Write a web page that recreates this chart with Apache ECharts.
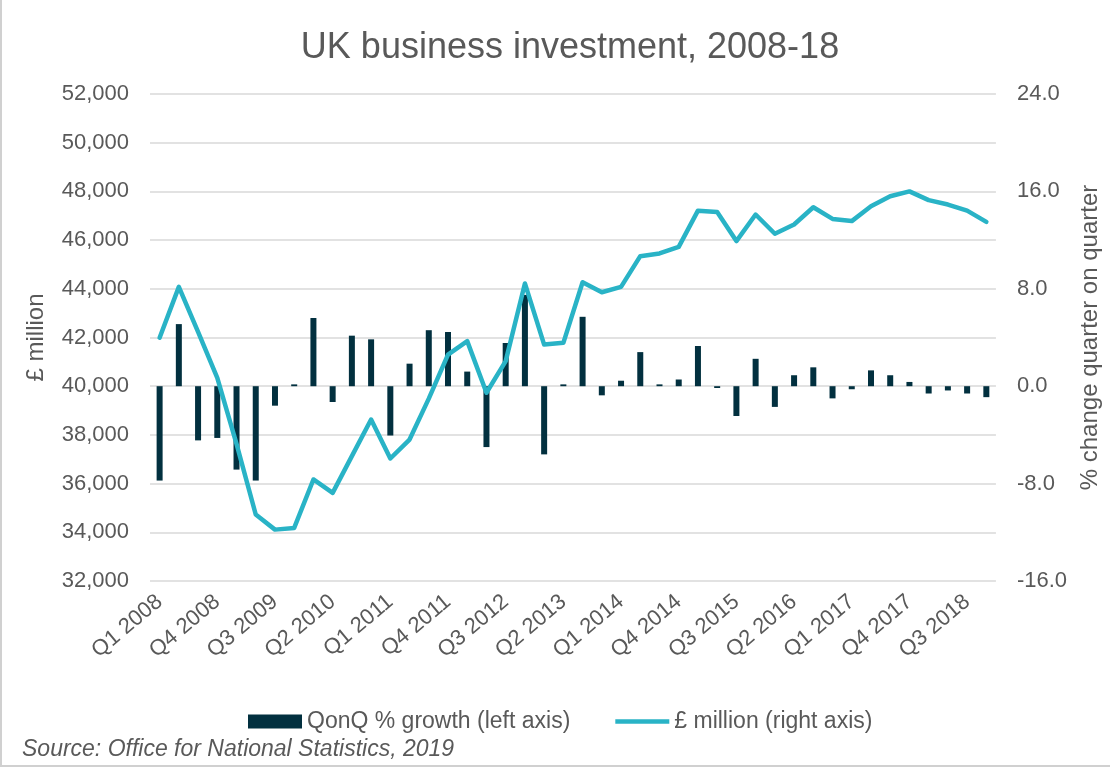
<!DOCTYPE html>
<html>
<head>
<meta charset="utf-8">
<title>UK business investment, 2008-18</title>
<script src="https://cdn.jsdelivr.net/npm/echarts@6/dist/echarts.min.js"></script>
<style>
  html, body { margin: 0; padding: 0; background: #ffffff; }
  #chart { width: 1110px; height: 768px; }
</style>
</head>
<body>
<div id="chart"></div>
<script>
// Quarters Q1 2008 – Q4 2018
const quarters = [
  'Q1 2008', 'Q2 2008', 'Q3 2008', 'Q4 2008',
  'Q1 2009', 'Q2 2009', 'Q3 2009', 'Q4 2009',
  'Q1 2010', 'Q2 2010', 'Q3 2010', 'Q4 2010',
  'Q1 2011', 'Q2 2011', 'Q3 2011', 'Q4 2011',
  'Q1 2012', 'Q2 2012', 'Q3 2012', 'Q4 2012',
  'Q1 2013', 'Q2 2013', 'Q3 2013', 'Q4 2013',
  'Q1 2014', 'Q2 2014', 'Q3 2014', 'Q4 2014',
  'Q1 2015', 'Q2 2015', 'Q3 2015', 'Q4 2015',
  'Q1 2016', 'Q2 2016', 'Q3 2016', 'Q4 2016',
  'Q1 2017', 'Q2 2017', 'Q3 2017', 'Q4 2017',
  'Q1 2018', 'Q2 2018', 'Q3 2018', 'Q4 2018'
];

// Quarter-on-quarter % growth
const qonqGrowth = [
  -7.75, 5.1, -4.45, -4.25,
  -6.85, -7.75, -1.6, 0.15,
  5.6, -1.3, 4.15, 3.85,
  -4.05, 1.85, 4.6, 4.45,
  1.2, -5.0, 3.55, 7.5,
  -5.6, 0.15, 5.7, -0.75,
  0.45, 2.8, 0.15, 0.55,
  3.3, -0.15, -2.45, 2.25,
  -1.7, 0.9, 1.55, -1.0,
  -0.25, 1.3, 0.9, 0.35,
  -0.6, -0.35, -0.6, -0.9
];

// Business investment, £ million
const investment = [
  41990, 44080, 42230, 40340,
  37630, 34730, 34110, 34180,
  36170, 35620, 37130, 38630,
  37030, 37810, 39490, 41300,
  41850, 39730, 41030, 44220,
  41710, 41780, 44270, 43860,
  44080, 45340, 45450, 45720,
  47210, 47150, 45960, 47050,
  46260, 46640, 47350, 46870,
  46780, 47390, 47800, 48000,
  47640, 47460, 47210, 46750
];

// Axis ranges
const leftAxisRange = { min: 32000, max: 52000, step: 2000 };
const rightAxisRange = { min: -16, max: 24, step: 8 };

const seriesNames = ['QonQ % growth (left axis)', '£ million (right axis)'];

const TEXT = '#595959';
const GRID = '#d9d9d9';
const BAR_COLOR = '#02303f';
const LINE_COLOR = '#29b3c6';
const FONT = "'Liberation Sans', Arial, sans-serif";

const chart = echarts.init(document.getElementById('chart'), null, { renderer: 'canvas' });

chart.setOption({
  backgroundColor: '#ffffff',
  animation: false,
  textStyle: { fontFamily: FONT, color: TEXT },
  title: {
    text: 'UK business investment, 2008-18',
    left: 565,
    textAlign: 'center',
    top: 25,
    textStyle: { fontFamily: FONT, fontSize: 36, fontWeight: 'normal', color: TEXT }
  },
  grid: { left: 150, right: 103, top: 94, bottom: 187, containLabel: false },
  legend: {
    left: 243,
    top: 705,
    itemWidth: 54,
    itemHeight: 14,
    itemGap: 45,
    textStyle: { fontFamily: FONT, fontSize: 23, color: TEXT },
    data: [
      { name: seriesNames[0], icon: 'rect' },
      // plain line swatch for the line series
      { name: seriesNames[1], icon: 'path://M0,0h54v4.5h-54z' }
    ]
  },
  xAxis: {
    type: 'category',
    data: quarters,
    boundaryGap: true,
    axisLine: { show: false },
    axisTick: { show: false },
    axisLabel: {
      interval: 2,
      rotate: 40,
      margin: 18,
      fontFamily: FONT,
      fontSize: 22,
      color: TEXT
    },
    splitLine: { show: false }
  },
  yAxis: [
    {
      type: 'value',
      position: 'left',
      min: leftAxisRange.min,
      max: leftAxisRange.max,
      interval: leftAxisRange.step,
      name: '£ million',
      nameLocation: 'middle',
      nameGap: 102,
      nameTextStyle: { fontFamily: FONT, fontSize: 24, color: TEXT },
      axisLine: { show: false },
      axisTick: { show: false },
      axisLabel: {
        margin: 21,
        fontFamily: FONT,
        fontSize: 22,
        color: TEXT,
        formatter: v => v.toLocaleString('en-GB')
      },
      splitLine: { show: true, lineStyle: { color: GRID, width: 1.5 } }
    },
    {
      type: 'value',
      position: 'right',
      min: rightAxisRange.min,
      max: rightAxisRange.max,
      interval: rightAxisRange.step,
      name: '% change quarter on quarter',
      nameLocation: 'middle',
      nameGap: 74,
      nameTextStyle: { fontFamily: FONT, fontSize: 24, color: TEXT },
      axisLine: { show: false },
      axisTick: { show: false },
      axisLabel: {
        margin: 21,
        fontFamily: FONT,
        fontSize: 22,
        color: TEXT,
        formatter: v => v.toFixed(1)
      },
      splitLine: { show: false }
    }
  ],
  series: [
    {
      name: seriesNames[0],
      type: 'bar',
      yAxisIndex: 1,
      data: qonqGrowth,
      barWidth: 6,
      itemStyle: { color: BAR_COLOR },
      z: 2
    },
    {
      name: seriesNames[1],
      type: 'line',
      yAxisIndex: 0,
      data: investment,
      symbol: 'none',
      lineStyle: { color: LINE_COLOR, width: 4.5, join: 'round', cap: 'round' },
      itemStyle: { color: LINE_COLOR },
      z: 3
    }
  ],
  graphic: [
    {
      // source note
      type: 'text',
      left: 22,
      top: 738,
      style: {
        text: 'Source: Office for National Statistics, 2019',
        font: "italic 23px 'Liberation Sans', Arial, sans-serif",
        fill: TEXT
      }
    },
    {
      // chart frame (left and bottom edges)
      type: 'polyline',
      shape: { points: [[1, 0], [1, 766], [1110, 766]] },
      style: { stroke: '#d0d0d0', lineWidth: 2, fill: null },
      silent: true
    }
  ]
});
</script>
</body>
</html>
